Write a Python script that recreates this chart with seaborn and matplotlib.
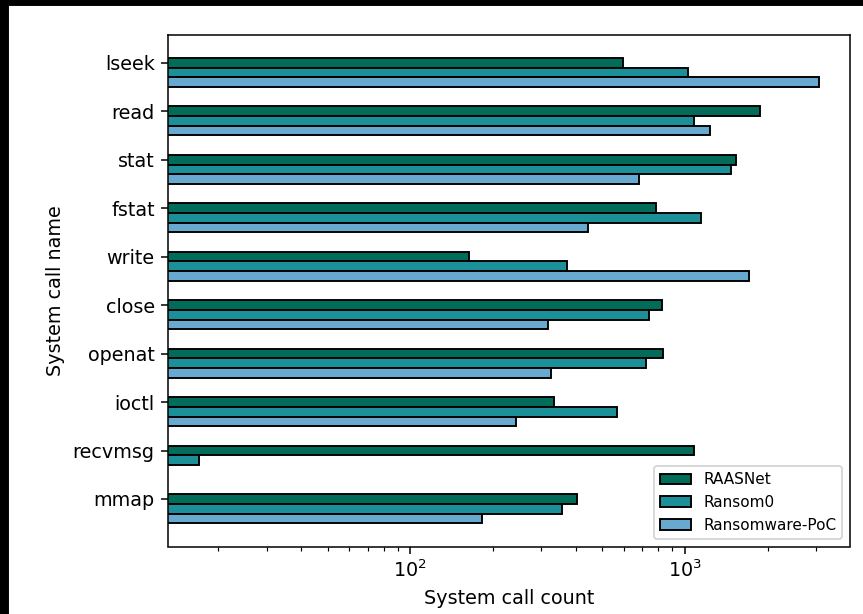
import numpy as np
import pandas as pd
import matplotlib
matplotlib.use("Agg")
import matplotlib.pyplot as plt
from matplotlib.patches import Rectangle
import seaborn as sns

# System calls observed per ransomware sample
syscalls = ["lseek", "read", "stat", "fstat", "write", "close",
            "openat", "ioctl", "recvmsg", "mmap"]
tools = ["RAASNet", "Ransom0", "Ransomware-PoC"]

raasnet = [593, 1871, 1533, 786, 164, 826, 832, 334, 1082, 404]
ransom0 = [1026, 1082, 1472, 1140, 371, 741, 724, 568, 17, 358]
ransomware_poc = [3078, 1234, 682, 445, 1709, 317, 325, 243, 0, 182]

colors = ["#016c59", "#1c9099", "#67a9cf"]

rows = []
for tool, counts in zip(tools, [raasnet, ransom0, ransomware_poc]):
    for name, c in zip(syscalls, counts):
        rows.append({"syscall": name, "tool": tool, "count": c})
df = pd.DataFrame(rows)
df = df[df["count"] > 0]

dpi = 137.5
fig = plt.figure(figsize=(863 / dpi, 614 / dpi), dpi=dpi)
ax = fig.add_axes([168 / 863, 1 - 546.5 / 614, (850 - 168) / 863, (546.5 - 34.6) / 614])

sns.barplot(data=df, x="count", y="syscall", hue="tool", order=syscalls,
            hue_order=tools, palette=colors, orient="h", width=0.6,
            errorbar=None, edgecolor="black", linewidth=1.0,
            ax=ax, saturation=1)
ax.set_xscale("log")

# log-axis limits with 5% padding around the data
pos = df["count"].to_numpy(dtype=float)
lo, hi = np.log10(pos.min()), np.log10(pos.max())
pad = 0.05 * (hi - lo)
ax.set_xlim(10 ** (lo - pad), 10 ** (hi + pad))

# tick at the first bar of each group
ax.set_yticks(np.arange(len(syscalls)) - 0.2, labels=syscalls)
ax.set_ylim(len(syscalls) - 0.22, -0.78)

ax.set_xlabel("System call count", fontsize=10)
ax.set_ylabel("System call name", fontsize=10)
ax.tick_params(labelsize=10)

handles, labels = ax.get_legend_handles_labels()
ax.legend(handles, labels, loc="lower right", fontsize=8)

# dark frame along the left and top edges
fig.patches.append(Rectangle((0, 0), 8 / 863, 1, transform=fig.transFigure,
                             color="black", zorder=10))
fig.patches.append(Rectangle((0, 1 - 5 / 614), 1, 5 / 614, transform=fig.transFigure,
                             color="black", zorder=10))

fig.savefig("out.png", dpi=dpi)
